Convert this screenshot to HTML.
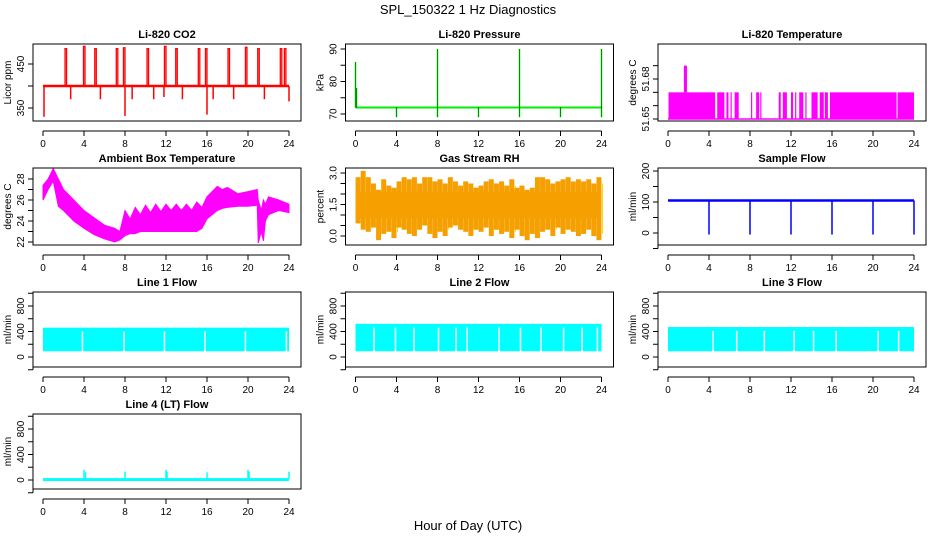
<!DOCTYPE html>
<html><head><meta charset="utf-8"><style>
html,body{margin:0;padding:0;background:#fff;}
svg{display:block;font-family:"Liberation Sans",Arial,sans-serif;}
</style></head><body>
<svg id="fig" width="936" height="540" viewBox="0 0 936 540" xmlns="http://www.w3.org/2000/svg">
<text x="468" y="14" text-anchor="middle" font-size="13">SPL_150322  1 Hz Diagnostics</text>
<text x="468" y="530" text-anchor="middle" font-size="13">Hour of Day (UTC)</text>
</svg>
<script>
// ---------- data ----------
const xTicks = [0,4,8,12,16,20,24];
// CO2
const co2Base = 400;
const co2UpT = [2.2,4.0,5.1,7.2,7.9,10.2,11.9,13.0,15.2,15.9,18.1,19.8,21.0,23.2,23.6];
const co2UpV = [485,490,485,485,487,485,490,485,485,485,485,488,485,485,485];
const co2DnT = [0.1,2.7,5.6,8.0,8.7,10.8,11.8,13.6,16.0,16.6,18.6,21.6,24.0];
const co2DnV = [330,370,370,332,370,370,375,370,335,370,370,370,365];
// Pressure
const presBase = 72;
const presSpT = [0.0,0.1,4.0,8.0,8.0,12.0,16.0,16.0,20.0,24.0,24.0];
const presSpV = [86,78,69,90,69,69,90,69,69,90,69];
// Li-820 temperature
const tempBandLo = 51.65, tempBandHi = 51.67, tempSpikeV = 51.69;
const tempSegStart = [0.05,4.8,5.7,6.1,6.5,8.1,8.6,9.0,10.8,11.2,12.0,12.4,12.8,13.4,14.0,14.8,15.3,15.8,22.4];
const tempSegEnd   = [4.6,5.5,5.9,6.2,6.9,8.2,8.9,9.1,11.0,11.6,12.2,12.5,13.2,13.5,14.6,15.2,15.6,22.3,24.0];
const tempSpike = [1.55,1.85];
// Ambient box temperature
const ambT  = [0,0.5,1.0,1.5,2,3,4,5,6,7,7.5,8,8.5,9,9.5,10,10.5,11,11.5,12,12.5,13,13.5,14,14.5,15,15.5,16,17,17.5,18,19,20,20.9,21.0,21.3,21.5,21.7,22,23,24];
const ambLo = [26.0,27.0,27.8,25.4,25.0,24.0,23.3,22.7,22.3,22.0,22.2,22.6,22.8,22.8,23.0,23.0,23.0,23.0,23.0,23.0,23.0,23.0,23.0,23.0,23.0,23.0,23.3,24.2,25.0,25.2,25.3,25.4,25.4,25.5,21.9,23.0,22.1,24.0,24.6,25.0,24.8];
const ambHi = [27.4,28.0,29.0,28.0,27.0,26.0,25.0,24.3,23.6,23.3,23.0,25.0,24.2,25.3,24.6,25.5,24.8,25.6,24.9,25.6,25.0,25.6,25.0,25.6,25.0,25.8,25.3,26.3,27.3,27.0,27.2,26.6,26.8,27.0,26.0,25.0,26.0,25.6,26.3,26.0,25.6];
// Gas stream RH (half-hour envelopes)
const rhHi = [2.8,3.1,2.8,2.5,2.2,2.7,2.4,2.3,2.6,2.8,2.7,2.8,2.5,2.8,2.8,2.6,2.7,2.5,2.8,2.6,2.4,2.6,2.5,2.3,2.4,2.6,2.7,2.5,2.6,2.4,2.7,2.3,2.4,2.2,2.3,2.8,2.8,2.7,2.5,2.6,2.7,2.8,2.6,2.7,2.6,2.7,2.5,2.8];
const rhLo = [0.6,0.3,0.2,0.4,-0.2,0.1,0.2,-0.1,0.4,0.3,0.1,0.0,0.3,0.5,0.1,-0.1,0.2,0.0,0.4,0.5,0.3,0.2,0.0,0.3,0.2,0.4,0.0,0.3,0.1,0.2,-0.1,0.3,0.0,-0.2,0.1,-0.1,0.2,0.3,0.0,0.4,0.1,0.3,0.2,0.0,0.1,0.3,0.0,-0.2];
const rhCoreLo = 0.85, rhCoreHi = 2.1;
// Sample flow
const sfBase = 105;
const sfDropT = [4,8,12,16,20,24];
const sfDropV = [-5,-5,-5,-5,-5,-5];
// Line flows
const l1Lo = 90, l1Hi = 460, l1Gaps = [3.85,7.9,11.85,15.8,19.75,23.75];
const l2Lo = 90, l2Hi = 520, l2Gaps = [1.8,3.9,5.7,8.1,9.8,10.9,14.0,16.1,18.1,20.3,22.1,23.6];
const l3Lo = 90, l3Hi = 470, l3Gaps = [4.4,6.7,9.4,12.3,14.2,16.4,20.5,22.5];
const l4Base = 15;
const l4SpT = [4.0,4.15,8.0,12.0,12.1,16.0,20.0,20.1,24.0];
const l4SpV = [160,120,130,160,130,120,160,130,130];

// ---------- helpers ----------
const NS = "http://www.w3.org/2000/svg";
const svg = document.getElementById('fig');
function mk(tag, attrs, parent){ const e=document.createElementNS(NS,tag); for(const k in attrs) e.setAttribute(k,attrs[k]); (parent||svg).appendChild(e); return e; }
const rowTop = [44,168,292,414];
const rowH = [77,77,75,75];

function panel(o){
  const L = 33 + 312.5*o.col, R = L + 268, T = rowTop[o.row], B = T + rowH[o.row];
  const g = mk('g',{});
  
  
  const x = t => L + 10 + t*246/24;
  const y = v => T + o.a[1] + (v - o.a[0])*(o.b[1]-o.a[1])/(o.b[0]-o.a[0]);
  const plot = mk('g',{},g);
  
  
  o.draw(plot, x, y, {L,R,T,B});
  const box = mk('rect',{x:L,y:T,width:R-L,height:B-T,fill:'none',stroke:'#000','stroke-width':1},g);
  
  
  const tt = mk('text',{x:(L+R)/2,y:T-6,'text-anchor':'middle','font-size':11,'font-weight':'bold'},g);
  tt.textContent = o.title;
  
  
  // x axis
  const xa = mk('g',{stroke:'#000','stroke-width':1},g);
  
  
  const ay = B + 10;
  mk('line',{x1:x(0),x2:x(24),y1:ay,y2:ay},xa);
  xTicks.forEach(t=>{
    mk('line',{x1:x(t),x2:x(t),y1:ay,y2:ay+5},xa);
    const tx = mk('text',{x:x(t),y:ay+16,'text-anchor':'middle','font-size':10,stroke:'none'},g);
    tx.textContent = t;
    
    
  });
  // y axis
  const ya = mk('g',{stroke:'#000','stroke-width':1},g);
  
  
  mk('line',{x1:L,x2:L,y1:y(o.yt[0]),y2:y(o.yt[o.yt.length-1])},ya);
  o.yt.forEach(v=>{ mk('line',{x1:L-5,x2:L,y1:y(v),y2:y(v)},ya); });
  o.yl.forEach((lab,i)=>{
    const yy = y(o.ylv[i]);
    const tx = mk('text',{x:L-9,y:yy,'text-anchor':'middle','font-size':10,transform:`rotate(-90 ${L-9} ${yy})`},g);
    tx.textContent = lab;
    
    
  });
  const yc = (T+B)/2, yx = L-22;
  const yt = mk('text',{x:yx,y:yc,'text-anchor':'middle','font-size':10,transform:`rotate(-90 ${yx} ${yc})`},g);
  yt.textContent = o.ylab;
  
  
}
function vline(p,x1,y1,y2,col,w){ return mk('line',{x1:x1,x2:x1,y1:y1,y2:y2,stroke:col,'stroke-width':w||1.5},p); }

// ---------- panels ----------
panel({name:'co2',title:'Li-820 CO2',col:0,row:0,ylab:'Licor ppm',a:[450,20],b:[350,64],
  yt:[350,400,450],yl:['350','450'],ylv:[350,450],
  draw:(p,x,y)=>{
    mk('line',{x1:x(0),x2:x(24),y1:y(co2Base),y2:y(co2Base),stroke:'#f00','stroke-width':2.5},p);
    co2UpT.forEach((t,i)=>{ const s=mk('path',{d:`M${x(t)-0.5},${y(co2Base)}V${y(co2UpV[i])}H${x(t)+1}V${y(co2Base)}`,fill:'none',stroke:'#f00','stroke-width':1.3},p);   });
    co2DnT.forEach((t,i)=>{ const s=vline(p,x(t),y(co2Base),y(co2DnV[i]),'#f00',1.5);   });
  }});
panel({name:'pressure',title:'Li-820 Pressure',col:1,row:0,ylab:'kPa',a:[90,5],b:[70,70],
  yt:[70,75,80,85,90],yl:['70','80','90'],ylv:[70,80,90],
  draw:(p,x,y)=>{
    mk('line',{x1:x(0),x2:x(24),y1:y(presBase),y2:y(presBase),stroke:'#00ee00','stroke-width':2},p);
    presSpT.forEach((t,i)=>{ const s=vline(p,x(t),y(presBase),y(presSpV[i]),'#00ee00',1.5);  
      mk('line',{x1:x(t),x2:x(t),y1:y(presBase),y2:y(presSpV[i]),stroke:'#000','stroke-width':0.8,'stroke-dasharray':'1 1'},p); });
  }});
panel({name:'li820-temperature',title:'Li-820 Temperature',col:2,row:0,ylab:'degrees C',a:[51.68,35],b:[51.65,75],
  yt:[51.65,51.66,51.67,51.68,51.69],yl:['51.65','51.68'],ylv:[51.65,51.68],
  draw:(p,x,y)=>{
    mk('line',{x1:x(0),x2:x(24),y1:y(tempBandLo),y2:y(tempBandLo),stroke:'#f0f','stroke-width':1.5},p);
    tempSegStart.forEach((s,i)=>{ const r=mk('rect',{x:x(s),y:y(tempBandHi),width:Math.max(1.2,x(tempSegEnd[i])-x(s)),height:y(tempBandLo)-y(tempBandHi),fill:'#f0f'},p);   });
    mk('rect',{x:x(tempSpike[0]),y:y(tempSpikeV),width:x(tempSpike[1])-x(tempSpike[0]),height:y(tempBandHi)-y(tempSpikeV),fill:'#f0f'},p);
  }});
panel({name:'ambient-temperature',title:'Ambient Box Temperature',col:0,row:1,ylab:'degrees C',a:[28,11],b:[22,74],
  yt:[22,23,24,25,26,27,28],yl:['22','24','26','28'],ylv:[22,24,26,28],
  draw:(p,x,y)=>{
    let d='M'+ambT.map((t,i)=>x(t)+','+y(ambHi[i])).join('L');
    for(let i=ambT.length-1;i>=0;i--) d+='L'+x(ambT[i])+','+y(ambLo[i]);
    mk('path',{d:d+'Z',fill:'#f0f',stroke:'#f0f','stroke-width':1},p);
  }});
panel({name:'gas-stream-rh',title:'Gas Stream RH',col:1,row:1,ylab:'percent',a:[3,5],b:[0,68],
  yt:[0,0.5,1,1.5,2,2.5,3],yl:['0.0','1.5','3.0'],ylv:[0,1.5,3],
  draw:(p,x,y)=>{
    mk('rect',{x:x(0),y:y(rhCoreHi),width:x(24)-x(0),height:y(rhCoreLo)-y(rhCoreHi),fill:'#f5a000'},p);
    rhHi.forEach((h,i)=>{ const t=i*0.5+0.25;
      const r=mk('rect',{x:x(t)-2.5,y:y(h),width:5,height:y(rhLo[i])-y(h),fill:'#f5a000'},p);
       
      vline(p,x(t)+3.5,y(h-0.3),y(rhLo[i]+0.3),'#ffd800',1);
    });
  }});
panel({name:'sample-flow',title:'Sample Flow',col:2,row:1,ylab:'ml/min',a:[200,3],b:[0,65],
  yt:[-50,0,50,100,150,200],yl:['0','100','200'],ylv:[0,100,200],
  draw:(p,x,y)=>{
    mk('line',{x1:x(0),x2:x(24),y1:y(sfBase),y2:y(sfBase),stroke:'#00f','stroke-width':2.5},p);
    sfDropT.forEach((t,i)=>{ const s=vline(p,x(t),y(sfBase),y(sfDropV[i]),'#00f',1.5);   });
  }});
function flowPanel(name,title,col,row,lo,hi,gaps){
  panel({name:name,title:title,col:col,row:row,ylab:'ml/min',a:[800,row===2?14:15],b:[0,row===2?65:66],
    yt:[-200,0,200,400,600,800,1000],yl:['0','400','800'],ylv:[0,400,800],
    draw:(p,x,y)=>{
      mk('rect',{x:x(0),y:y(hi),width:x(24)-x(0),height:y(lo)-y(hi),fill:'#0ff'},p);
      gaps.forEach(t=>{ const s=vline(p,x(t),y(lo)+1,y(hi-60),'#fff',1.5);   });
    }});
}
flowPanel('line1-flow','Line 1 Flow',0,2,l1Lo,l1Hi,l1Gaps);
flowPanel('line2-flow','Line 2 Flow',1,2,l2Lo,l2Hi,l2Gaps);
flowPanel('line3-flow','Line 3 Flow',2,2,l3Lo,l3Hi,l3Gaps);
panel({name:'line4-flow',title:'Line 4 (LT) Flow',col:0,row:3,ylab:'ml/min',a:[800,15],b:[0,66],
  yt:[-200,0,200,400,600,800,1000],yl:['0','400','800'],ylv:[0,400,800],
  draw:(p,x,y)=>{
    mk('rect',{x:x(0),y:y(l4Base*2),width:x(24)-x(0),height:y(0)-y(l4Base*2)+1,fill:'#0ff'},p);
    l4SpT.forEach((t,i)=>{ const s=vline(p,x(t),y(l4Base),y(l4SpV[i]),'#0ff',1.5);   });
  }});
</script>
</body></html>
